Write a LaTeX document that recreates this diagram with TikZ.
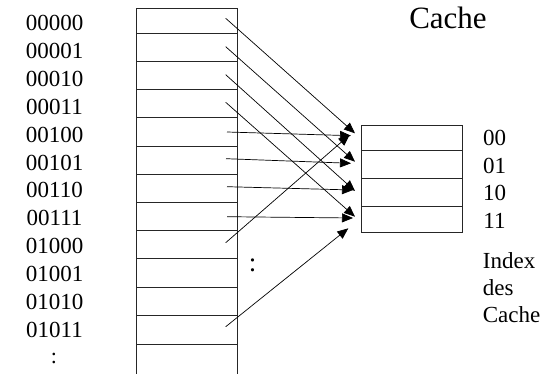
\documentclass[tikz,border=0pt]{standalone}
\usepackage{fontspec}
\setmainfont{Liberation Serif}
\usetikzlibrary{arrows.meta}
\begin{document}
\begin{tikzpicture}[x=1pt,y=-1pt,
  lbl/.style={font=\fontsize{23}{25}\selectfont, inner sep=0pt},
  title/.style={font=\fontsize{31}{34}\selectfont, inner sep=0pt},
  box/.style={line width=0.8pt, draw=black!85},
  cell/.style={draw=black!85, line width=0.8pt, minimum width=101.4pt, inner sep=0pt, outer sep=0pt},
  conn/.style={line width=0.7pt, -{Triangle[length=11pt,width=9pt]}},
  dots/.style={inner sep=0pt}]
\useasboundingbox (0,0) rectangle (548,374);
% memory column
\draw[box] (136,374) -- (136,8.7) -- (237,8.7) -- (237,374);
\foreach \y in {33.3,61.7,89.7,117.7,146,174,202.3,230.7,258.7,287,315,344}
  \draw[box] (136,\y) -- (237,\y);
% address labels
\foreach \t [count=\i from 0] in {00000,00001,00010,00011,00100,00101,00110,00111,01000,01001,01010,01011}
  \node[lbl] (ad\i) at (54.5,{23+\i*27.9}) {\t};
\node[lbl, font=\fontsize{22}{24}\selectfont] (vd1) at (54,358) {:};
\node[lbl, font=\fontsize{27}{30}\selectfont] (vd2) at (252.7,265) {:};
% cache
\node[cell, minimum height=24.7pt] (c0) at (412,137.65) {};
\node[cell, minimum height=28.3pt] (c1) at (412,164.15) {};
\node[cell, minimum height=28pt] (c2) at (412,192.3) {};
\node[cell, minimum height=26pt] (c3) at (412,219.3) {};
\node[lbl] (i0) at (494.5,137.7) {00};
\node[lbl] (i1) at (494.5,165.7) {01};
\node[lbl] (i2) at (494.5,192.7) {10};
\node[lbl] (i3) at (494.5,220.7) {11};
\node[title] (ct) at (448,18.3) {Cache};
\node[lbl, align=left, anchor=north west, font=\fontsize{23}{27}\selectfont] (ix) at (482.7,252) {Index\\des\\Cache};
% connector start points
\coordinate (s0) at (225.7,18.3);
\coordinate (s1) at (225.7,46.7);
\coordinate (s2) at (225.7,74.7);
\coordinate (s3) at (225.7,102.3);
\coordinate (s4) at (227,132);
\coordinate (s5) at (226,158.7);
\coordinate (s6) at (227,186.7);
\coordinate (s7) at (227,216.7);
\coordinate (s8) at (225.7,242.7);
\coordinate (s11) at (225.7,326.7);
% connector end points
\coordinate (e0) at (355,133.3);
\coordinate (e1) at (355,161.7);
\coordinate (e2) at (355,191);
\coordinate (e3) at (355,216.7);
\coordinate (e4) at (351,135.7);
\coordinate (e5) at (351,163.3);
\coordinate (e6) at (353,190);
\coordinate (e7) at (353,218);
\coordinate (e8) at (349.5,135);
\coordinate (e11) at (348.3,228.3);
\foreach \k in {0,1,2,3,4,5,6,7,8,11}
  \draw[conn] (s\k) -- (e\k);
\end{tikzpicture}
\end{document}
